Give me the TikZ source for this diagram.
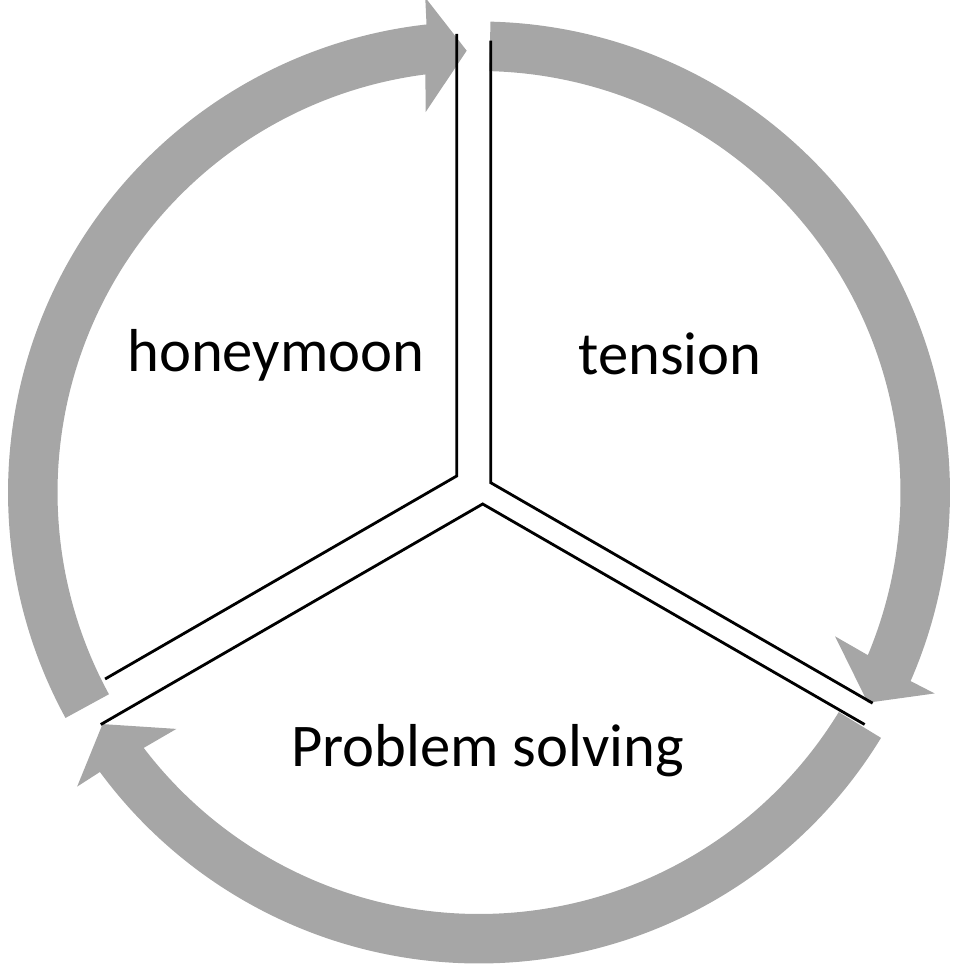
\documentclass[tikz,border=0pt]{standalone}
\usepackage{fontspec}
\setmainfont{Carlito}
\usetikzlibrary{calc}
\definecolor{bandgray}{HTML}{A6A6A6}

\begin{document}
\begin{tikzpicture}[x=0.02cm, y=0.02cm,
    wedge/.style={line width=1.6pt, black},
    stage/.style={font=\fontsize{34.5}{40}\selectfont, anchor=base}]
  \useasboundingbox (0,0) rectangle (959,966);
  \coordinate (c) at (479,473.5);
  % gray arrows round the cycle
  \foreach \s in {88.6, 208.6, 328.6} {
    \fill[bandgray] ($(c)+(\s:471)$) arc[start angle=\s, end angle=\s-112.2, radius=471]
      -- ($(c)+(\s-112.4:498)$) -- ($(c)+(\s-117:442)$) -- ($(c)+(\s-110.6:384)$)
      -- ($(c)+(\s-111.3:421.5)$) arc[start angle=\s-111.3, end angle=\s, radius=421.5] -- cycle;
  }
  % pie pieces
  \coordinate (hm) at (456.7,490);
  \coordinate (te) at (490.7,483.3);
  \coordinate (ps) at (482.7,462);
  \draw[wedge] ($(hm)+(90:442)$) -- (hm) -- ($(hm)+(210:406)$);
  \draw[wedge] ($(te)+(90:442)$) -- (te) -- ($(te)+(-30:441)$);
  \draw[wedge] ($(ps)+(-30:441)$) -- (ps) -- ($(ps)+(210:441)$);
  \node[stage] (honeymoon) at (275.8,594.3) {honeymoon};
  \node[stage] (tension) at (670,591) {tension};
  \node[stage] (solving) at (487.8,199.3) {Problem solving};
\end{tikzpicture}
\end{document}
